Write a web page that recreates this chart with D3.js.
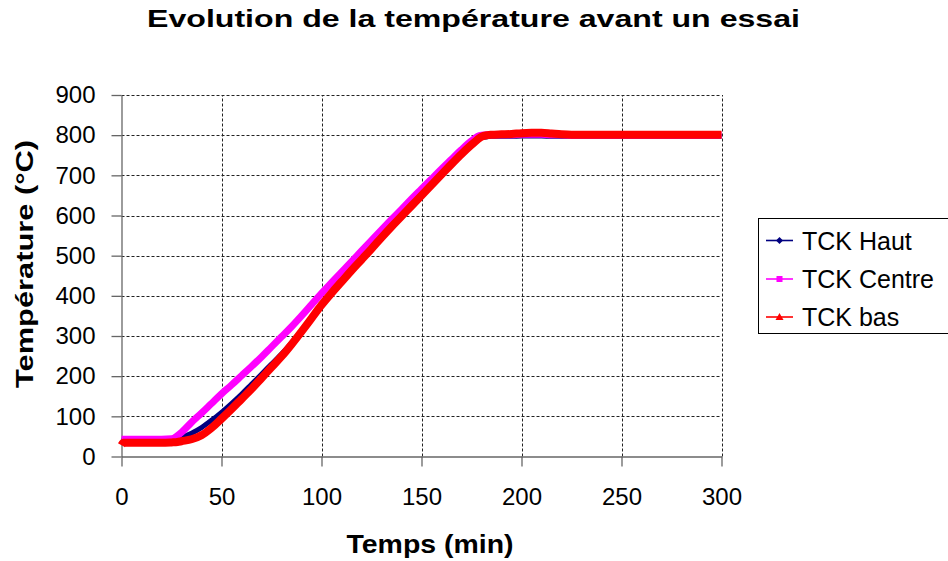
<!DOCTYPE html>
<html>
<head>
<meta charset="utf-8">
<script src="https://cdn.jsdelivr.net/npm/d3@7"></script>
<style>
  html, body { margin: 0; padding: 0; background: #fff; }
  svg { display: block; font-family: "Liberation Sans", Arial, sans-serif; }
</style>
</head>
<body>
<svg id="chart" width="948" height="561"></svg>
<script>
// ---- data ----
const timeMin = [0,1,5,10,15,20,25,28,30,35,40,45,50,55,60,65,70,75,80,85,90,95,100,105,110,115,120,125,130,135,140,145,150,155,160,165,170,175,178,180,183,185,190,195,200,205,210,215,220,225,230,240,250,260,270,280,290,300];

const tckHaut = [44,43,43,43,43,43,43,45,48,58,72,90,110,132,155,180,205,230,255,283,313,345,378,407,435,463,491,518,546,573,599,625,651,677,703,729,754,777,789,794,796,797,797,797,798,798,798,797,797,797,797,797,797,797,797,797,797,797];

const tckCentre = [43,43,43,43,43,43,44,52,60,85,108,132,156,178,201,224,248,273,298,323,350,378,406,433,459,485,512,538,564,590,615,641,666,691,716,740,764,786,797,800,801,801,801,801,802,802,802,801,801,800,800,800,800,800,800,800,800,800];

const tckBas = [28,34,34,34,34,34,35,36,38,43,53,71,94,118,143,168,195,222,249,279,311,344,377,407,435,463,490,517,545,572,598,624,650,676,702,728,753,776,789,796,800,801,802,803,805,806,806,804,802,801,801,801,801,801,801,801,801,801];

const seriesNames = ["TCK Haut", "TCK Centre", "TCK bas"];
const xTicks = [0,50,100,150,200,250,300];
const yTicks = [0,100,200,300,400,500,600,700,800,900];

const titleText = "Evolution de la température avant un essai";
const xTitle = "Temps (min)";
const yTitle = "Température (°C)";

// ---- drawing ----
const svg = d3.select("#chart");
const x = d3.scaleLinear().domain([0, 300]).range([121.5, 721.5]);
const y = d3.scaleLinear().domain([0, 900]).range([456.5, 95]);

const styles = [
  { color: "#000080", width: 5, marker: "diamond" },
  { color: "#FF00FF", width: 7, marker: "square" },
  { color: "#FF0000", width: 8, marker: "triangle" }
];
const seriesData = [tckHaut, tckCentre, tckBas];

// grid
const grid = svg.append("g");
grid.selectAll("line.h").data(yTicks.filter(d => d > 0)).enter().append("line")
  .attr("x1", x(0)).attr("x2", x(300))
  .attr("y1", d => Math.round(y(d)) + 0.5).attr("y2", d => Math.round(y(d)) + 0.5)
  .attr("stroke", "#222").attr("stroke-width", 1).attr("stroke-dasharray", "3,2");
grid.selectAll("line.v").data(xTicks.filter(d => d > 0)).enter().append("line")
  .attr("y1", y(0)).attr("y2", y(900))
  .attr("x1", d => Math.round(x(d)) + 0.5).attr("x2", d => Math.round(x(d)) + 0.5)
  .attr("stroke", "#222").attr("stroke-width", 1).attr("stroke-dasharray", "3,2");

// axes
const xAxis = d3.axisBottom(x).tickValues(xTicks).tickSize(10).tickSizeOuter(0).tickPadding(10);
const yAxis = d3.axisLeft(y).tickValues(yTicks).tickSize(10).tickSizeOuter(0).tickPadding(16);

const gx = svg.append("g").attr("transform", `translate(0,${y(0)})`).call(xAxis);
const gy = svg.append("g").attr("transform", `translate(${x(0)},0)`).call(yAxis);
[gx, gy].forEach(g => {
  g.select(".domain").attr("stroke", "#666").attr("stroke-width", 1.3);
  g.selectAll(".tick line").attr("stroke", "#666").attr("stroke-width", 1.3);
  g.selectAll(".tick text").attr("font-size", 24).attr("fill", "#000")
    .attr("font-family", "Liberation Sans, Arial, sans-serif");
});
gx.selectAll(".tick text").attr("dy", "0.71em").attr("y", 31);

// lines
const line = d3.line()
  .x((d, i) => x(timeMin[i]))
  .y(d => y(d))
  .curve(d3.curveMonotoneX);

seriesData.forEach((s, k) => {
  svg.append("path")
    .datum(s)
    .attr("d", line)
    .attr("fill", "none")
    .attr("stroke", styles[k].color)
    .attr("stroke-width", styles[k].width)
    .attr("stroke-linejoin", "round")
    .attr("stroke-linecap", "butt");
});

// titles
svg.append("text").attr("x", 473.5).attr("y", 27).attr("text-anchor", "middle")
  .attr("font-size", 24).attr("font-weight", "bold")
  .attr("textLength", 653).attr("lengthAdjust", "spacingAndGlyphs")
  .text(titleText);
svg.append("text").attr("x", 430).attr("y", 553).attr("text-anchor", "middle")
  .attr("font-size", 25).attr("font-weight", "bold")
  .attr("textLength", 167).attr("lengthAdjust", "spacingAndGlyphs")
  .text(xTitle);
svg.append("text").attr("transform", "translate(33,264) rotate(-90)").attr("text-anchor", "middle")
  .attr("font-size", 24).attr("font-weight", "bold")
  .attr("textLength", 248).attr("lengthAdjust", "spacingAndGlyphs")
  .text(yTitle);

// legend
const lg = svg.append("g");
lg.append("rect").attr("x", 758.5).attr("y", 218.5).attr("width", 200).attr("height", 115)
  .attr("fill", "#fff").attr("stroke", "#000").attr("stroke-width", 1);
const legY = [240.5, 279, 317];
seriesNames.forEach((name, k) => {
  const yy = legY[k];
  const c = styles[k].color;
  lg.append("line").attr("x1", 766).attr("x2", 793).attr("y1", yy).attr("y2", yy)
    .attr("stroke", c).attr("stroke-width", 1.6);
  const mx = 779.5;
  if (styles[k].marker === "diamond") {
    lg.append("path").attr("d", `M${mx},${yy-3.5}L${mx+3.5},${yy}L${mx},${yy+3.5}L${mx-3.5},${yy}Z`).attr("fill", c);
  } else if (styles[k].marker === "square") {
    lg.append("rect").attr("x", mx - 3).attr("y", yy - 3).attr("width", 6).attr("height", 6).attr("fill", c);
  } else {
    lg.append("path").attr("d", `M${mx},${yy-4}L${mx+4},${yy+3}L${mx-4},${yy+3}Z`).attr("fill", c);
  }
  lg.append("text").attr("x", 802).attr("y", yy + 9).attr("font-size", 25).attr("fill", "#000")
    .text(name);
});
</script>
</body>
</html>
